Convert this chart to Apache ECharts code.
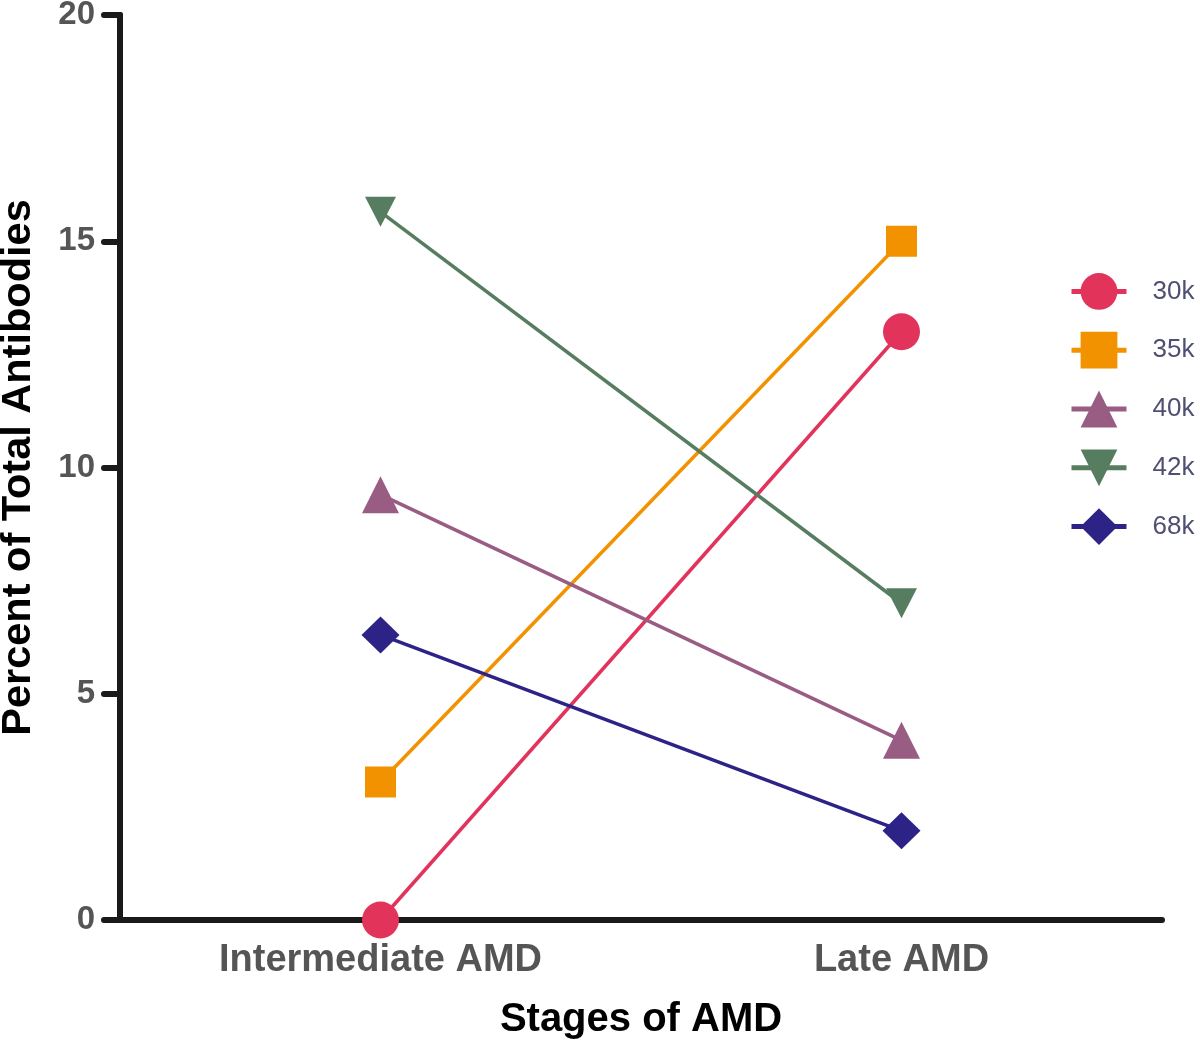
<!DOCTYPE html>
<html>
<head>
<meta charset="utf-8">
<script src="https://cdn.jsdelivr.net/npm/echarts@6/dist/echarts.min.js"></script>
<style>
html,body{margin:0;padding:0;background:#fff;}
#chart{width:1200px;height:1044px;}
</style>
</head>
<body>
<div id="chart"></div>
<script>
var categories = ['Intermediate AMD', 'Late AMD'];
var seriesNames = ['30k', '35k', '40k', '42k', '68k'];
var values30k = [0, 13];
var values35k = [3.05, 15];
var values40k = [9.4, 3.97];
var values42k = [15.65, 7.0];
var values68k = [6.3, 1.97];
var yTicks = [0, 5, 10, 15, 20];

var colors = ['#e2335b', '#f39200', '#995d84', '#567d5f', '#2d2386'];
var symbols = ['circle', 'rect', 'triangle', 'triangle', 'diamond'];
var symbolSizes = [37, 31, 37, [31, 30], [38, 37]];
var rotations = [0, 0, 0, 180, 0];
var allValues = [values30k, values35k, values40k, values42k, values68k];

var font = '"Liberation Sans", Arial, Helvetica, sans-serif';

var series = seriesNames.map(function (name, i) {
  return {
    name: name,
    type: 'line',
    data: allValues[i],
    symbol: symbols[i],
    symbolSize: symbolSizes[i],
    symbolRotate: rotations[i],
    showAllSymbol: true,
    lineStyle: { color: colors[i], width: 3.5 },
    itemStyle: { color: colors[i] },
    emphasis: { disabled: true },
    animation: false
  };
});

var chart = echarts.init(document.getElementById('chart'), null, { renderer: 'canvas' });
chart.setOption({
  backgroundColor: '#ffffff',
  animation: false,
  grid: { left: 120, right: 38, top: 15, bottom: 124, containLabel: false, outerBoundsMode: 'none' },
  legend: {
    orient: 'vertical',
    left: 1064,
    top: 268,
    width: 136,
    padding: 5,
    itemWidth: 55,
    itemHeight: 46,
    itemGap: 22,
    symbolRotate: 'inherit',
    lineStyle: { width: 5 },
    textStyle: { fontFamily: font, fontSize: 26, color: '#4f4f72', padding: [0, 0, 0, 21] },
    data: seriesNames,
    selectedMode: false
  },
  xAxis: {
    type: 'category',
    data: categories,
    boundaryGap: true,
    name: 'Stages of AMD',
    nameLocation: 'middle',
    nameGap: 80,
    nameTextStyle: { fontFamily: font, fontSize: 40, fontWeight: 'bold', color: '#000' },
    axisLine: { lineStyle: { color: '#1a1a1a', width: 6, cap: 'round' } },
    axisTick: { alignWithLabel: true, length: 18, lineStyle: { color: '#1a1a1a', width: 6, cap: 'round' } },
    axisLabel: { fontFamily: font, fontSize: 38, fontWeight: 'bold', color: '#555555', margin: 22 },
    splitLine: { show: false }
  },
  yAxis: {
    type: 'value',
    min: yTicks[0],
    max: yTicks[yTicks.length - 1],
    interval: 5,
    name: 'Percent of Total Antibodies',
    nameLocation: 'middle',
    nameGap: 80,
    nameTextStyle: { fontFamily: font, fontSize: 41.5, fontWeight: 'bold', color: '#000' },
    axisLine: { show: true, lineStyle: { color: '#1a1a1a', width: 6, cap: 'round' } },
    axisTick: { show: true, length: 16, lineStyle: { color: '#1a1a1a', width: 6, cap: 'round' } },
    axisLabel: { fontFamily: font, fontSize: 33, fontWeight: 'bold', color: '#555555', margin: 25 },
    splitLine: { show: false }
  },
  series: series
});
</script>
</body>
</html>
